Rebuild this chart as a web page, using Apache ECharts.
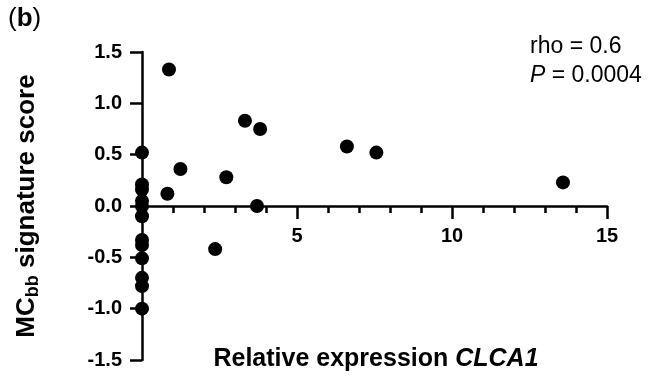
<!DOCTYPE html>
<html>
<head>
<meta charset="utf-8">
<script src="https://cdn.jsdelivr.net/npm/echarts@6/dist/echarts.min.js"></script>
<style>
html,body{margin:0;padding:0;background:#fff;}
#chart{width:659px;height:389px;}
</style>
</head>
<body>
<div id="chart"></div>
<script>
// Data
const xValues = [0, 0, 0, 0, 0, 0, 0, 0, 0, 0, 0, 0,
                 0.87, 3.32, 3.81, 6.61, 7.56, 1.24, 2.72, 0.82, 3.71, 2.36, 13.58];
const yValues = [0.52, 0.21, 0.16, 0.05, -0.10, -0.33, -0.38, -0.51, -0.70, -0.78, -1.00, 0.00,
                 1.33, 0.83, 0.75, 0.58, 0.52, 0.36, 0.28, 0.12, 0.00, -0.42, 0.23];
const xTicks = [0, 5, 10, 15];
const yTicks = [-1.5, -1.0, -0.5, 0.0, 0.5, 1.0, 1.5];
const statLines = ['rho = 0.6', '{i|P} = 0.0004'];

const FONT = '"Liberation Sans", Arial, Helvetica, sans-serif';
const points = xValues.map((x, i) => [x, yValues[i]]);

const GRID = {left: 142, right: 52, top: 52, bottom: 29};
const plotH = 389 - GRID.top - GRID.bottom;
const yMin = yTicks[0], yMax = yTicks[yTicks.length - 1];
const zeroFromBottom = plotH * (0 - yMin) / (yMax - yMin);

const chart = echarts.init(document.getElementById('chart'), null, {renderer: 'canvas'});
chart.setOption({
  animation: false,
  backgroundColor: '#fff',
  grid: Object.assign({containLabel: false, outerBoundsMode: 'none'}, GRID),
  xAxis: {
    type: 'value',
    position: 'bottom',
    offset: -zeroFromBottom,
    min: xTicks[0], max: xTicks[xTicks.length - 1], interval: 5,
    axisLine: {show: true, onZero: false, lineStyle: {color: '#000', width: 2.5}},
    axisTick: {show: true, inside: false, length: 13, lineStyle: {color: '#000', width: 2.5}},
    minorTick: {show: true, splitNumber: 5, length: 7, lineStyle: {color: '#000', width: 2.5}},
    splitLine: {show: false},
    minorSplitLine: {show: false},
    axisLabel: {
      show: true, color: '#000', fontSize: 20, fontWeight: 'bold', fontFamily: FONT, margin: 20,
      formatter: v => (v === 0 ? '' : String(v))
    }
  },
  yAxis: {
    type: 'value',
    position: 'left',
    min: yMin, max: yMax, interval: 0.5,
    axisLine: {show: true, onZero: false, lineStyle: {color: '#000', width: 2.5}},
    axisTick: {show: true, inside: false, length: 12, lineStyle: {color: '#000', width: 2.5}},
    splitLine: {show: false},
    axisLabel: {
      show: true, color: '#000', fontSize: 20, fontWeight: 'bold', fontFamily: FONT, margin: 20,
      formatter: v => v.toFixed(1)
    },
    name: 'MC{sub|bb} signature score',
    nameLocation: 'middle',
    nameGap: 100,
    nameTextStyle: {
      color: '#000', fontSize: 26, fontWeight: 'bold', fontFamily: FONT,
      rich: {
        sub: {color: '#000', fontSize: 18, fontWeight: 'bold', fontFamily: FONT, padding: [13, 0, 0, 0]}
      }
    }
  },
  series: [{
    type: 'scatter',
    data: points,
    symbol: 'circle',
    symbolSize: 14,
    clip: false,
    itemStyle: {color: '#000', opacity: 1},
    z: 5
  }],
  graphic: [
    {
      type: 'text', left: 8, top: 6,
      style: {
        text: '{p|(}{b|b}{p|)}',
        rich: {
          p: {fontSize: 26, fontFamily: FONT, fill: '#000'},
          b: {fontSize: 26, fontFamily: FONT, fontWeight: 'bold', fill: '#000'}
        }
      }
    },
    {
      type: 'text', x: 376, y: 359,
      style: {
        text: 'Relative expression {i|CLCA1}',
        font: 'bold 25px ' + FONT,
        fill: '#000', align: 'center', verticalAlign: 'middle',
        rich: {i: {fontSize: 25, fontWeight: 'bold', fontStyle: 'italic', fontFamily: FONT, fill: '#000'}}
      }
    },
    {
      type: 'text', x: 530, y: 47,
      style: {text: statLines[0], font: '23px ' + FONT, fill: '#000', align: 'left', verticalAlign: 'middle'}
    },
    {
      type: 'text', x: 530, y: 76,
      style: {
        text: statLines[1], font: '23px ' + FONT, fill: '#000', align: 'left', verticalAlign: 'middle',
        rich: {i: {fontSize: 23, fontStyle: 'italic', fontFamily: FONT, fill: '#000'}}
      }
    }
  ]
});
</script>
</body>
</html>
